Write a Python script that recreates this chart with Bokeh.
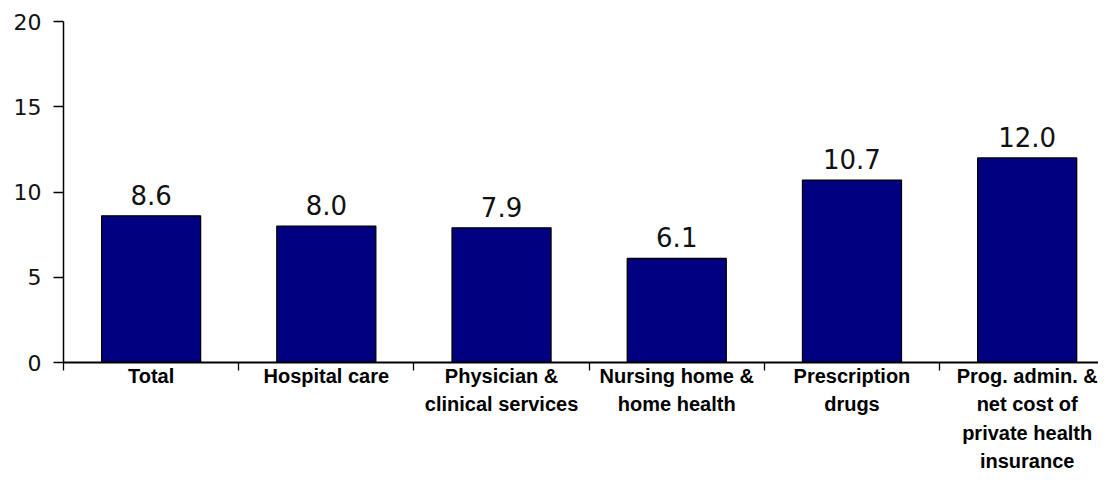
from bokeh.plotting import figure
from bokeh.models import Range1d, FixedTicker, ColumnDataSource, LabelSet
from bokeh.core.properties import value
from bokeh.embed import file_html
from bokeh.resources import INLINE

categories = [
    "Total",
    "Hospital care",
    "Physician &\nclinical services",
    "Nursing home &\nhome health",
    "Prescription\ndrugs",
    "Prog. admin. &\nnet cost of\nprivate health\ninsurance",
]
values = [8.6, 8.0, 7.9, 6.1, 10.7, 12.0]
value_labels = ["8.6", "8.0", "7.9", "6.1", "10.7", "12.0"]
y_ticks = [0, 5, 10, 15, 20]

n = len(categories)
centers = list(range(n))
boundaries = [i - 0.5 for i in range(n + 1)]

source = ColumnDataSource(dict(x=centers, top=values, lab=value_labels))

p = figure(
    width=1098, height=475,
    x_range=Range1d(-0.5, 5.407), y_range=Range1d(0, 20),
    output_backend="svg", toolbar_location=None,
    min_border_left=63, min_border_right=0, min_border_top=21, min_border_bottom=112,
)
p.outline_line_color = None
p.xgrid.visible = False
p.ygrid.visible = False
p.background_fill_color = "white"
p.border_fill_color = "white"

p.vbar(x="x", top="top", width=0.565, source=source,
       fill_color="#000080", line_color="black", line_width=1.3)

labels = LabelSet(x="x", y="top", text="lab", source=source,
                  text_align="center", text_baseline="alphabetic", y_offset=11,
                  text_font=value("DejaVu Sans"), text_font_size=value("26px"),
                  text_color="#111111")
p.add_layout(labels)

# y axis
ya = p.yaxis[0]
ya.ticker = FixedTicker(ticks=y_ticks)
ya.major_tick_out = 10
ya.major_tick_in = 0
ya.minor_tick_out = 0
ya.minor_tick_in = 0
ya.axis_line_width = 1.5
ya.axis_line_color = "black"
ya.major_tick_line_color = "black"
ya.major_tick_line_width = 1.3
ya.major_label_text_font = "DejaVu Sans"
ya.major_label_text_font_size = "22px"
ya.major_label_text_color = "#111111"
ya.major_label_standoff = 12

# x axis
xa = p.xaxis[0]
xa.ticker = FixedTicker(ticks=centers, minor_ticks=boundaries)
xa.major_label_overrides = {i: c for i, c in zip(centers, categories)}
xa.major_tick_out = 0
xa.major_tick_in = 0
xa.major_tick_line_color = None
xa.minor_tick_out = 8
xa.minor_tick_in = 0
xa.minor_tick_line_color = "black"
xa.minor_tick_line_width = 1.3
xa.axis_line_width = 2
xa.axis_line_color = "black"
xa.major_label_text_font = "Liberation Sans"
xa.major_label_text_font_style = "bold"
xa.major_label_text_font_size = "20px"
xa.major_label_text_line_height = 1.3
xa.major_label_text_color = "black"
xa.major_label_standoff = -6

open("out.html", "w").write(file_html(p, INLINE))
